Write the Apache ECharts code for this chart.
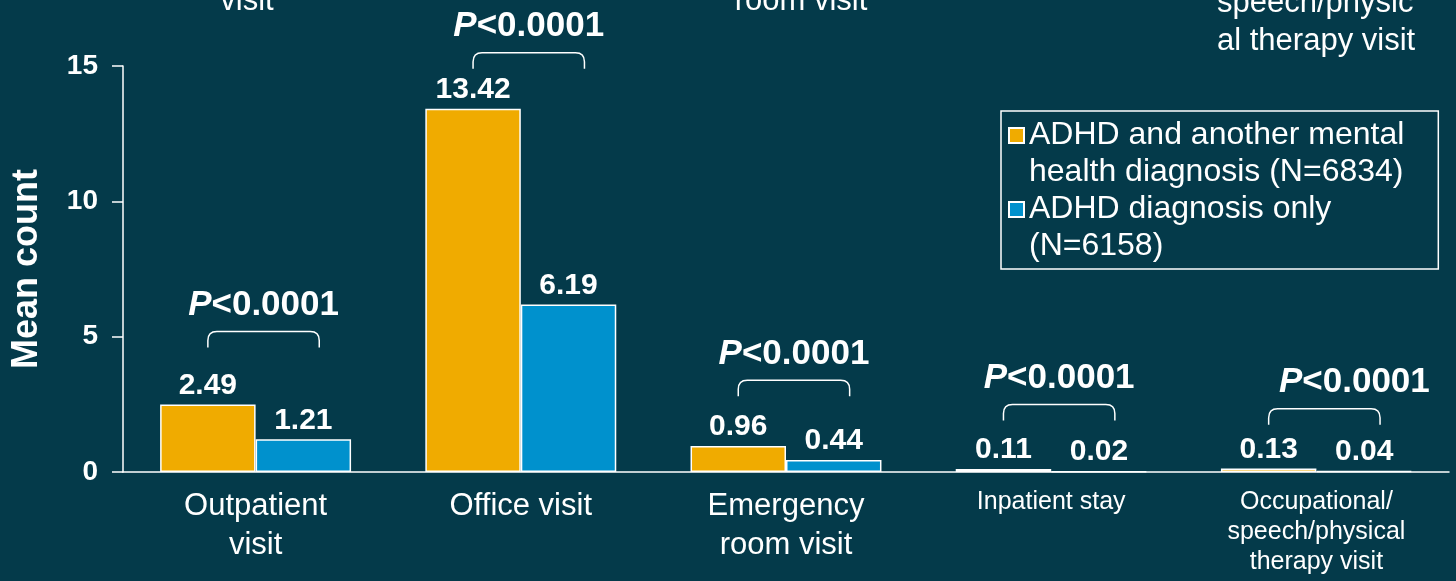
<!DOCTYPE html>
<html>
<head>
<meta charset="utf-8">
<script src="https://cdn.jsdelivr.net/npm/echarts@6/dist/echarts.min.js"></script>
<style>
  html, body { margin: 0; padding: 0; background: #043a4a; }
  #chart { width: 1456px; height: 581px; }
</style>
</head>
<body>
<div id="chart"></div>
<script>
// categories and values
const categories = ['Outpatient\nvisit', 'Office visit', 'Emergency\nroom visit', 'Inpatient stay', 'Occupational/\nspeech/physical\ntherapy visit'];
const comorbidMeans = [2.49, 13.42, 0.96, 0.11, 0.13];
const adhdOnlyMeans = [1.21, 6.19, 0.44, 0.02, 0.04];
const pValues = ['<0.0001', '<0.0001', '<0.0001', '<0.0001', '<0.0001'];
// level (in mean count) where each bracket's legs end
const bracketLevels = [4.6, 14.9, 2.8, 1.9, 1.75];
const yMin = 0, yMax = 15, yStep = 5;

const seriesNames = ['ADHD and another mental\nhealth diagnosis (N=6834)', 'ADHD diagnosis only\n(N=6158)'];
const smallLabels = ['Inpatient stay', 'Occupational/\nspeech/physical\ntherapy visit'];

const FONT = 'Arial, "Liberation Sans", sans-serif';
const WHITE = '#ffffff';

let myChart = echarts.init(document.getElementById('chart'));

function renderBracket(params, api) {
  let i = api.value(0);
  let base = api.coord([i, api.value(1)]);
  let w = api.size([1, 0])[0];
  let x0 = base[0] - w * 0.18, x1 = base[0] + w * 0.24;
  let yb = base[1], yt = yb - 16, r = 9;
  let mid = (x0 + x1) / 2;
  let shift = i === 4 ? 30 : 0; // last label sits a bit right of its bracket
  let d = 'M' + x0 + ',' + yb + ' L' + x0 + ',' + (yt + r) +
    ' Q' + x0 + ',' + yt + ' ' + (x0 + r) + ',' + yt +
    ' L' + (x1 - r) + ',' + yt +
    ' Q' + x1 + ',' + yt + ' ' + x1 + ',' + (yt + r) +
    ' L' + x1 + ',' + yb;
  return {
    type: 'group',
    children: [
      { type: 'path', shape: { pathData: d }, style: { stroke: WHITE, lineWidth: 1.5, fill: null } },
      {
        type: 'text', x: mid + shift, y: yt - 26,
        style: {
          text: '{i|P}{b|' + pValues[i] + '}',
          align: 'center', verticalAlign: 'middle',
          rich: {
            i: { fontFamily: FONT, fontSize: 35, fontWeight: 'bold', fontStyle: 'italic', fill: WHITE },
            b: { fontFamily: FONT, fontSize: 35, fontWeight: 'bold', fill: WHITE }
          }
        }
      }
    ]
  };
}

const barLabel = {
  show: true,
  position: 'top',
  distance: 4,
  color: WHITE,
  fontFamily: FONT,
  fontSize: 30,
  fontWeight: 'bold',
  formatter: p => p.value.toFixed(2)
};

let option = {
  backgroundColor: '#043a4a',
  animation: false,
  textStyle: { fontFamily: FONT },
  grid: { left: 123, right: 7, top: 66, bottom: 109 },
  legend: {
    left: 1001, top: 111,
    orient: 'vertical',
    data: seriesNames,
    selectedMode: false,
    borderColor: WHITE,
    borderWidth: 1.5,
    padding: [6, 34, 4, 7],
    itemGap: 0,
    itemWidth: 15,
    itemHeight: 52,
    itemTextGap: 11,
    icon: 'path://M0,0L15,0L15,15L0,15Z M0,52',
    textStyle: { color: WHITE, fontSize: 32, lineHeight: 37, fontFamily: FONT }
  },
  xAxis: {
    type: 'category',
    data: categories,
    axisLine: { lineStyle: { color: WHITE, width: 1.5 } },
    axisTick: { length: 8, lineStyle: { color: WHITE, width: 1.5 } },
    axisLabel: {
      margin: 15,
      interval: 0,
      color: WHITE,
      formatter: v => smallLabels.indexOf(v) >= 0 ? '{s|' + v + '}' : '{b|' + v + '}',
      rich: {
        b: { fontFamily: FONT, fontSize: 31, lineHeight: 39, color: WHITE },
        s: { fontFamily: FONT, fontSize: 25, lineHeight: 30, color: WHITE }
      }
    }
  },
  yAxis: {
    type: 'value',
    min: yMin, max: yMax, interval: yStep,
    name: 'Mean count',
    nameLocation: 'middle',
    nameGap: 78,
    nameTextStyle: { color: WHITE, fontSize: 36, fontWeight: 'bold', fontFamily: FONT },
    splitLine: { show: false },
    axisLine: { show: true, lineStyle: { color: WHITE, width: 1.5 } },
    axisTick: { show: true, length: 11, lineStyle: { color: WHITE, width: 1.5 } },
    axisLabel: { color: WHITE, fontSize: 28, fontWeight: 'bold', margin: 25, fontFamily: FONT }
  },
  series: [
    {
      name: seriesNames[0],
      type: 'bar',
      data: comorbidMeans,
      barGap: '0%',
      barCategoryGap: '28%',
      itemStyle: { color: '#f0ab00', borderColor: WHITE, borderWidth: 1.5 },
      label: barLabel,
      emphasis: { disabled: true }
    },
    {
      name: seriesNames[1],
      type: 'bar',
      data: adhdOnlyMeans,
      itemStyle: { color: '#0091cd', borderColor: WHITE, borderWidth: 1.5 },
      label: barLabel,
      emphasis: { disabled: true }
    },
    {
      type: 'custom',
      renderItem: renderBracket,
      data: bracketLevels.map((lv, i) => [i, lv]),
      encode: { x: 0, y: 1 },
      z: 10,
      silent: true
    }
  ],
  // labels of the slide above, cut by the top edge
  graphic: [
    { type: 'text', x: 247, y: 17, style: { text: 'visit', fill: WHITE, font: '31px ' + FONT, align: 'center', verticalAlign: 'bottom' } },
    { type: 'text', x: 801, y: 17, style: { text: 'room visit', fill: WHITE, font: '31px ' + FONT, align: 'center', verticalAlign: 'bottom' } },
    { type: 'text', x: 1217, y: 19, style: { text: 'speech/physic', fill: WHITE, font: '31px ' + FONT, align: 'left', verticalAlign: 'bottom' } },
    { type: 'text', x: 1217, y: 57, style: { text: 'al therapy visit', fill: WHITE, font: '31px ' + FONT, align: 'left', verticalAlign: 'bottom' } }
  ]
};

myChart.setOption(option);
window.addEventListener('resize', function() {
  myChart.resize();
});
</script>
</body>
</html>
